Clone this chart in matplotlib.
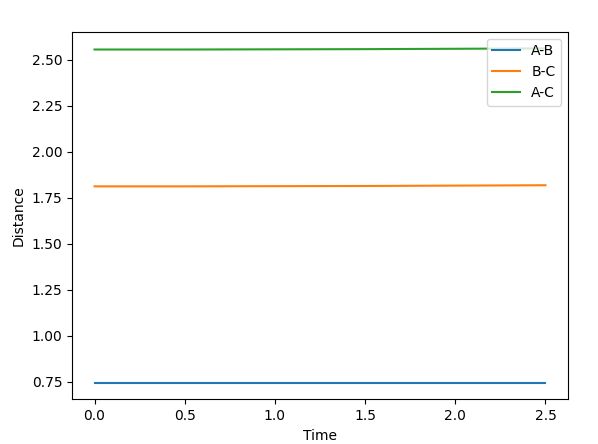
import matplotlib
matplotlib.use("Agg")
import matplotlib.pyplot as plt

# distances
time = [0.0, 0.5, 1.0, 1.5, 2.0, 2.5]
dist_ab = [0.745, 0.745, 0.745, 0.745, 0.745, 0.745]
dist_bc = [1.812, 1.812, 1.813, 1.814, 1.816, 1.818]
dist_ac = [2.556, 2.556, 2.557, 2.558, 2.560, 2.562]

fig = plt.figure(figsize=(5.98, 4.44), dpi=100)
# axes box placed in pixels to match the (tight-cropped) reference
ax = fig.add_axes([72 / 598, (444 - 399.3) / 444, 496 / 598, 367.6 / 444])

ax.plot(time, dist_ab, label="A-B")
ax.plot(time, dist_bc, label="B-C")
ax.plot(time, dist_ac, label="A-C")

ax.set_xlabel("Time")
ax.set_ylabel("Distance")
ax.legend(loc="upper right")

fig.savefig("out.png", dpi=100)
